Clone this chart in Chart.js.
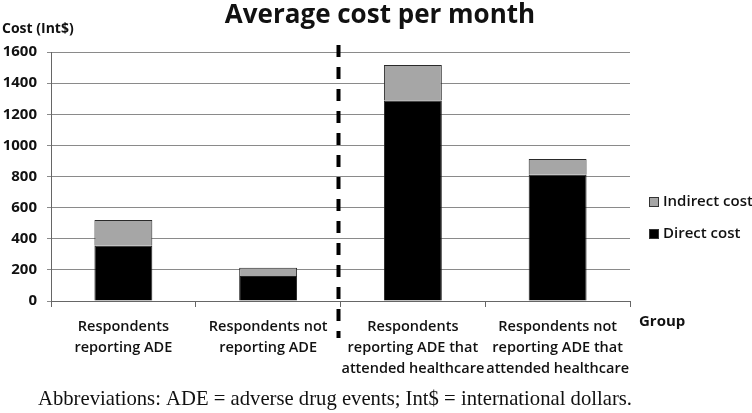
<!DOCTYPE html>
<html>
<head>
<meta charset="utf-8">
<script src="https://cdn.jsdelivr.net/npm/chart.js@4"></script>
<style>
  html, body { margin: 0; padding: 0; background: #fff; }
  #wrap { width: 752px; height: 413px; }
</style>
</head>
<body>
<div id="wrap"><canvas id="myChart" width="752" height="413"></canvas></div>
<script>
// data
const categories = [
    ['Respondents', 'reporting ADE'],
    ['Respondents not', 'reporting ADE'],
    ['Respondents', 'reporting ADE that', 'attended healthcare'],
    ['Respondents not', 'reporting ADE that', 'attended healthcare']
];
const directCost = [355, 161, 1288, 811];
const indirectCost = [165, 52, 228, 101];
const yMin = 0;
const yMax = 1600;
const yStep = 200;

const titleText = 'Average cost per month';
const yAxisTitle = 'Cost (Int$)';
const xAxisTitle = 'Group';
const footnote = 'Abbreviations: ADE = adverse drug events; Int$ = international dollars.';

Chart.defaults.font.family = "'Open Sans', sans-serif";
Chart.defaults.color = '#111';

// extra texts, legend and the dashed divider
const extras = {
    id: 'extras',
    afterDatasetsDraw(chart) {
        const ctx = chart.ctx;
        const x = chart.scales.x;
        const xDiv = (x.getPixelForValue(1) + x.getPixelForValue(2)) / 2 - 2;
        ctx.save();
        ctx.strokeStyle = '#000';
        ctx.lineWidth = 4;
        ctx.setLineDash([12, 10]);
        ctx.beginPath();
        ctx.moveTo(xDiv, 45);
        ctx.lineTo(xDiv, 338);
        ctx.stroke();
        ctx.restore();
    },
    afterDraw(chart) {
        const ctx = chart.ctx;
        ctx.save();
        ctx.fillStyle = '#111';
        ctx.textBaseline = 'alphabetic';

        ctx.font = "bold 26px 'Open Sans', sans-serif";
        ctx.textAlign = 'center';
        ctx.fillText(titleText, 380, 23);

        ctx.font = "bold 14px 'Open Sans', sans-serif";
        ctx.textAlign = 'left';
        ctx.fillText(yAxisTitle, 2, 33);

        ctx.font = "bold 15px 'Open Sans', sans-serif";
        ctx.fillText(xAxisTitle, 639, 326);

        // legend (Indirect on top, Direct below)
        const items = [
            { label: 'Indirect cost', color: '#a6a6a6', y: 202 },
            { label: 'Direct cost', color: '#000', y: 234 }
        ];
        ctx.font = "600 15px 'Open Sans', sans-serif";
        ctx.textBaseline = 'middle';
        items.forEach(it => {
            ctx.fillStyle = it.color;
            ctx.fillRect(649, it.y - 5, 10, 10);
            ctx.strokeStyle = '#333';
            ctx.lineWidth = 1;
            ctx.strokeRect(649.5, it.y - 4.5, 9, 9);
            ctx.fillStyle = '#111';
            ctx.fillText(it.label, 663, it.y);
        });

        // footnote, squeezed to the width it has in the picture
        ctx.font = "21px 'Liberation Serif', 'Times New Roman', serif";
        ctx.textAlign = 'left';
        ctx.textBaseline = 'alphabetic';
        const w = ctx.measureText(footnote).width;
        ctx.translate(38, 405);
        ctx.scale(594 / w, 1);
        ctx.fillText(footnote, 0, 0);
        ctx.restore();
    }
};

const ctx = document.getElementById('myChart').getContext('2d');
const myChart = new Chart(ctx, {
    type: 'bar',
    data: {
        labels: categories,
        datasets: [{
            label: 'Direct cost',
            data: directCost,
            backgroundColor: '#000',
            borderColor: '#222',
            borderWidth: 1,
            barPercentage: 0.4,
            categoryPercentage: 1.0
        }, {
            label: 'Indirect cost',
            data: indirectCost,
            backgroundColor: '#a6a6a6',
            borderColor: '#2a2a2a',
            borderWidth: 1,
            barPercentage: 0.4,
            categoryPercentage: 1.0
        }]
    },
    options: {
        responsive: false,
        animation: false,
        layout: {
            padding: { top: 52, right: 122, bottom: 38, left: 0 }
        },
        plugins: {
            legend: { display: false },
            title: { display: false },
            tooltip: { enabled: false }
        },
        scales: {
            x: {
                stacked: true,
                afterFit: (axis) => { axis.height = 74; },
                grid: {
                    drawOnChartArea: false,
                    drawTicks: true,
                    tickLength: 6,
                    color: '#666'
                },
                border: { color: '#666' },
                ticks: {
                    padding: 9,
                    color: '#111',
                    autoSkip: false,
                    maxRotation: 0,
                    minRotation: 0,
                    font: { size: 14.5, weight: '600', lineHeight: 1.45 }
                }
            },
            y: {
                stacked: true,
                min: yMin,
                max: yMax,
                afterFit: (axis) => { axis.width = 51; },
                grid: {
                    color: '#8a8a8a',
                    tickLength: 4
                },
                border: { color: '#666' },
                ticks: {
                    stepSize: yStep,
                    padding: 10,
                    color: '#111',
                    font: { size: 15, weight: 'bold' },
                    callback: (v) => String(v)
                }
            }
        }
    },
    plugins: [extras]
});
</script>
</body>
</html>
